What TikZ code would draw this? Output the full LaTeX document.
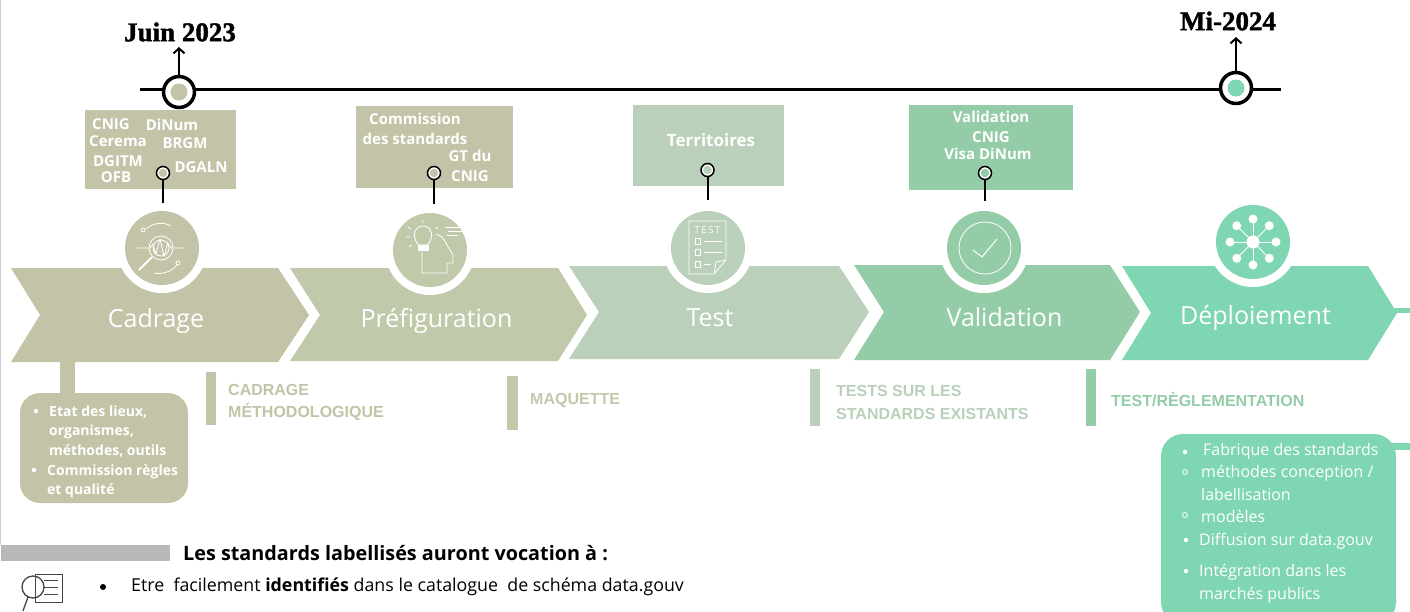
\documentclass[tikz,border=0pt]{standalone}
\usepackage{fontspec}
\setmainfont{Open Sans}
\newfontfamily\datefont[BoldFeatures={FakeBold=1.5}]{Liberation Serif}
\newfontfamily\capsfont{Liberation Sans}
\usetikzlibrary{arrows.meta, positioning}
\definecolor{cadragecol}{RGB}{195, 195, 167}
\definecolor{prefigcol}{RGB}{193, 201, 171}
\definecolor{testcol}{RGB}{186, 208, 186}
\definecolor{validcol}{RGB}{149, 204, 168}
\definecolor{deploycol}{RGB}{127, 214, 178}
\definecolor{bandcol}{RGB}{185, 185, 185}
\definecolor{iconcol}{RGB}{70, 70, 70}

\begin{document}
\begin{tikzpicture}[x=1pt, y=-1pt,
    datelabel/.style={font=\datefont\bfseries\fontsize{27}{27}\selectfont, inner sep=0pt},
    ringmark/.style={circle, draw=black, fill=white, line width=3.5pt, minimum size=31pt, inner sep=0pt},
    dotmark/.style={circle, minimum size=17pt, inner sep=0pt},
    pinmark/.style={circle, draw=black, fill=white, line width=1.5pt, minimum size=13pt, inner sep=0pt},
    pindot/.style={circle, minimum size=8.5pt, inner sep=0pt},
    stemline/.style={line width=2pt, black},
    infobox/.style={rectangle, inner sep=0pt},
    infotext/.style={font=\bfseries\fontsize{15}{15}\selectfont, text=white, inner sep=0pt},
    phasetext/.style={font=\fontsize{25}{25}\selectfont, text=white, inner sep=0pt},
    halo/.style={circle, fill=white, minimum size=90pt, inner sep=0pt},
    disc/.style={circle, minimum size=74pt, inner sep=0pt},
    icon/.style={white, line width=0.8pt},
    capstext/.style={font=\capsfont\bfseries\fontsize{16}{16}\selectfont, anchor=west, inner sep=0pt},
    boxtext/.style={font=\bfseries\fontsize{14}{14}\selectfont, text=white, anchor=west, inner sep=0pt},
    listtext/.style={font=\fontsize{16}{16}\selectfont, text=white, anchor=west, inner sep=0pt},
    bulletdot/.style={circle, fill=white, minimum size=4.5pt, inner sep=0pt},
    bullethollow/.style={circle, draw=white, line width=0.8pt, minimum size=5pt, inner sep=0pt}]

    \clip (0, 0) rectangle (1410, 611);
    \fill[white] (0, 0) rectangle (1410, 611);
    \draw[black!20, line width=1pt] (0.5, 0) -- (0.5, 545);

    % timeline
    \coordinate (tlstart) at (140, 89);
    \coordinate (tlend) at (1281, 89);
    \draw[black, line width=3pt] (tlstart) -- (tlend);
    \node[datelabel] (juinlabel) at (180, 32) {Juin 2023};
    \node[datelabel] (milabel) at (1228, 21) {Mi-2024};
    \node[ringmark] (juin) at (179, 92) {};
    \node[dotmark, fill=cadragecol] (juindot) at (179, 92) {};
    \node[ringmark] (mi) at (1236, 88) {};
    \node[dotmark, fill=deploycol] (midot) at (1236, 88) {};
    \draw[-{Straight Barb[length=5pt, width=11pt, line width=2pt]}, line width=2.5pt] (juin) -- (179, 47);
    \draw[-{Straight Barb[length=5pt, width=11pt, line width=2pt]}, line width=2.5pt] (mi) -- (1236, 37);

    % actors
    \node[infobox, fill=cadragecol, minimum width=151pt, minimum height=78.5pt] (cadrageinfo) at (160, 149.25) {};
    \node[infobox, fill=cadragecol, minimum width=157pt, minimum height=82pt] (prefiginfo) at (434.5, 147) {};
    \node[infobox, fill=testcol, minimum width=151pt, minimum height=81pt] (testinfo) at (708.5, 145.5) {};
    \node[infobox, fill=validcol, minimum width=164pt, minimum height=85pt] (validinfo) at (990.5, 147.5) {};

    \node[infotext] (cnig) at (111, 124.5) {CNIG};
    \node[infotext] (dinum) at (172, 124.5) {DiNum};
    \node[infotext] (cerema) at (118, 141.5) {Cerema};
    \node[infotext] (brgm) at (185, 143.5) {BRGM};
    \node[infotext] (dgitm) at (118, 161.5) {DGITM};
    \node[infotext] (ofb) at (116, 177.5) {OFB};
    \node[infotext] (dgaln) at (201, 167.5) {DGALN};
    \node[infotext] (commission) at (415, 118.5) {Commission};
    \node[infotext] (standards) at (415, 138.5) {des standards};
    \node[infotext] (gtdu) at (470, 155.5) {GT du};
    \node[infotext] (gtcnig) at (470, 176.5) {CNIG};
    \node[infotext, font=\bfseries\fontsize{17}{17}\selectfont] (territoires) at (711, 140) {Territoires};
    \node[infotext] (validation) at (991, 116.5) {Validation};
    \node[infotext] (validcnig) at (991, 137.5) {CNIG};
    \node[infotext] (visa) at (988, 153.5) {Visa DiNum};

    \node[pinmark] (pincadrage) at (163, 173) {};
    \node[pindot, fill=cadragecol] (dotcadrage) at (163, 173) {};
    \coordinate (stemcadrage) at (163, 204);
    \draw[stemline] (pincadrage) -- (stemcadrage);
    \node[pinmark] (pinprefig) at (434, 173) {};
    \node[pindot, fill=cadragecol] (dotprefig) at (434, 173) {};
    \coordinate (stemprefig) at (434, 204);
    \draw[stemline] (pinprefig) -- (stemprefig);
    \node[pinmark] (pintest) at (707.5, 170) {};
    \node[pindot, fill=testcol] (dottest) at (707.5, 170) {};
    \coordinate (stemtest) at (707.5, 200);
    \draw[stemline] (pintest) -- (stemtest);
    \node[pinmark] (pinvalid) at (985, 173) {};
    \node[pindot, fill=validcol] (dotvalid) at (985, 173) {};
    \coordinate (stemvalid) at (985, 201);
    \draw[stemline] (pinvalid) -- (stemvalid);

    % phases
    \fill[cadragecol] (11, 268) -- (278, 268) -- (309, 315) -- (278, 362) -- (11, 362) -- (40, 315) -- cycle;
    \fill[prefigcol] (290, 268) -- (558, 268) -- (587, 315) -- (558, 361) -- (290, 361) -- (320, 315) -- cycle;
    \fill[testcol] (569, 266) -- (839, 266) -- (869, 312) -- (839, 359) -- (569, 359) -- (599, 312) -- cycle;
    \fill[validcol] (854, 265) -- (1110, 265) -- (1140, 312) -- (1110, 360) -- (854, 360) -- (884, 312) -- cycle;
    \fill[deploycol] (1122, 266) -- (1368, 266) -- (1397, 313) -- (1368, 360) -- (1122, 360) -- (1151, 313) -- cycle;
    \fill[deploycol] (1394, 308) rectangle (1410, 313);
    \node[phasetext] (cadrage) at (156, 321) {Cadrage};
    \node[phasetext] (prefig) at (436.5, 321) {Préfiguration};
    \node[phasetext] (test) at (710, 318) {Test};
    \node[phasetext] (valid) at (1004.5, 317) {Validation};
    \node[phasetext] (deploy) at (1255.5, 318) {Déploiement};

    \node[halo] (halocadrage) at (162, 248) {};
    \node[disc, fill=cadragecol] (disccadrage) at (162, 248) {};
    \node[halo] (haloprefig) at (430, 250) {};
    \node[disc, fill=prefigcol] (discprefig) at (430, 250) {};
    \node[halo] (halotest) at (708, 248) {};
    \node[disc, fill=testcol] (disctest) at (708, 248) {};
    \node[halo] (halovalid) at (984, 248) {};
    \node[disc, fill=validcol] (discvalid) at (984, 248) {};
    \node[halo] (halodeploy) at (1253, 242) {};
    \node[disc, fill=deploycol] (discdeploy) at (1253, 242) {};

    % icons
    \draw[icon] (161, 248) circle (12) (161, 248) circle (8);
    \draw[icon] (137, 248) -- (150, 248) -- (153, 244) -- (156, 254) -- (160, 239) -- (164, 256) -- (168, 243) -- (171, 248) -- (185, 248);
    \draw[icon, line width=2pt] (152, 257) -- (139, 270);
    \draw[icon] (146, 229) .. controls (154, 222) and (164, 222) .. (171, 226);
    \draw[icon] (154, 273) .. controls (163, 275) and (172, 271) .. (177, 265);
    \draw[icon] (143, 230) circle (2) (178, 263) circle (2);

    \draw[icon] (419, 245) .. controls (411, 238) and (414, 226) .. (423, 226) .. controls (432, 226) and (435, 238) .. (427, 245) -- cycle;
    \fill[white] (418, 245) rectangle (429, 251);
    \draw[icon] (422, 252) -- (422, 273) -- (447, 273) -- (447, 263) -- (453, 263) -- (453, 255) -- (447, 245) .. controls (444, 238) and (440, 235) .. (436, 234);
    \draw[icon] (445, 227) -- (460, 227) (448, 231) -- (462, 231) (447, 235) -- (458, 235);
    \draw[icon] (411, 229) -- (408, 227) (423, 223) -- (423, 220) (435, 229) -- (438, 227) (410, 237) -- (406, 237) (412, 245) -- (409, 247);

    \draw[icon] (689, 221) -- (726, 221) -- (726, 260) -- (714, 274) -- (689, 274) -- cycle;
    \draw[icon] (726, 260) -- (716, 262) -- (714, 274);
    \node[font=\fontsize{9.5}{9.5}\selectfont, text=white, inner sep=0pt] (testword) at (707.5, 230) {T\,E\,S\,T};
    \draw[icon] (695, 238) rectangle (700, 244) (704, 241) -- (722, 241);
    \draw[icon] (695, 249) rectangle (700, 255) (704, 252) -- (722, 252);
    \draw[icon] (695, 261) rectangle (700, 267) (704, 264) -- (711, 264);

    \draw[icon] (985, 248) circle (26);
    \draw[icon, line width=1pt] (973, 250) -- (982, 257) -- (997, 239);

    \foreach \ang in {0, 45, ..., 315} {
        \draw[icon] (1253, 242) -- ++(\ang:23);
        \fill[white] (1253, 242) ++(\ang:23) circle (4.5);
    }
    \fill[white] (1253, 242) circle (6.5);

    % steps
    \fill[cadragecol] (206, 372) rectangle (216, 425);
    \node[capstext, text=cadragecol] (cadragea) at (228, 390) {CADRAGE};
    \node[capstext, text=cadragecol] (cadrageb) at (228, 412) {MÉTHODOLOGIQUE};
    \fill[prefigcol] (507, 376) rectangle (518, 430);
    \node[capstext, text=prefigcol] (maquette) at (530, 400) {MAQUETTE};
    \fill[testcol] (810, 369) rectangle (820, 426);
    \node[capstext, text=testcol] (testsa) at (836, 391) {TESTS SUR LES};
    \node[capstext, text=testcol] (testsb) at (836, 414) {STANDARDS EXISTANTS};
    \fill[validcol] (1086, 369) rectangle (1096, 426);
    \node[capstext, text=validcol] (reglement) at (1111, 400) {TEST/RÈGLEMENTATION};

    % detail boxes
    \coordinate (stemtop) at (67, 362);
    \coordinate (stembottom) at (67, 396);
    \draw[cadragecol, line width=15pt] (stemtop) -- (stembottom);
    \node[infobox, fill=cadragecol, rounded corners=20pt, minimum width=168pt, minimum height=110pt] (cadragebox) at (104, 448) {};
    \node[bulletdot] (b1) at (36, 411) {};
    \node[boxtext] (etat) at (49, 412.5) {Etat des lieux,};
    \node[boxtext] (organismes) at (49, 432) {organismes,};
    \node[boxtext] (methodes) at (49, 451.5) {méthodes, outils};
    \node[bulletdot] (b2) at (34, 470) {};
    \node[boxtext] (regles) at (47, 471.5) {Commission règles};
    \node[boxtext] (qualite) at (47, 491) {et qualité};

    \coordinate (linkleft) at (1390, 446.5);
    \coordinate (linkright) at (1410, 446.5);
    \draw[deploycol, line width=7pt] (linkleft) -- (linkright);
    \node[infobox, fill=deploycol, rounded corners=22pt, minimum width=235pt, minimum height=190pt] (deploybox) at (1278.5, 529) {};
    \node[bulletdot] (b3) at (1185, 452) {};
    \node[listtext] (fabrique) at (1203, 451) {Fabrique des standards};
    \node[bullethollow] (b4) at (1185, 472) {};
    \node[listtext] (conception) at (1201, 473) {méthodes conception /};
    \node[listtext] (labellisation) at (1201, 494) {labellisation};
    \node[bullethollow] (b5) at (1185, 515) {};
    \node[listtext] (modeles) at (1201, 516) {modèles};
    \node[bulletdot] (b6) at (1186, 540) {};
    \node[listtext] (diffusion) at (1199, 541) {Diffusion sur data.gouv};
    \node[bulletdot] (b7) at (1186, 571) {};
    \node[listtext] (integration) at (1199, 572) {Intégration dans les};
    \node[listtext] (marches) at (1199, 595) {marchés publics};

    % bottom text
    \fill[bandcol] (1, 545) rectangle (170, 561);
    \node[font=\bfseries\fontsize{19.8}{19.8}\selectfont, anchor=west, inner sep=0pt] (vocation) at (183, 553) {Les standards labellisés auront vocation à :};
    \node[circle, fill=black, minimum size=6pt, inner sep=0pt] (b8) at (103, 587) {};
    \node[font=\fontsize{17.8}{17.8}\selectfont, anchor=west, inner sep=0pt] (identifies) at (131, 587) {Etre\ \ facilement \textbf{identifiés} dans le catalogue\ \ de schéma data.gouv};
    \draw[iconcol, line width=1pt] (35, 574) rectangle (62, 602);
    \draw[iconcol, line width=1pt] (44, 580) -- (58, 580) (44, 587) -- (58, 587) (44, 594) -- (58, 594);
    \draw[iconcol, line width=1.3pt] (33, 587) circle (11);
    \draw[iconcol, line width=1.3pt] (28, 597) -- (23, 611);
\end{tikzpicture}
\end{document}
